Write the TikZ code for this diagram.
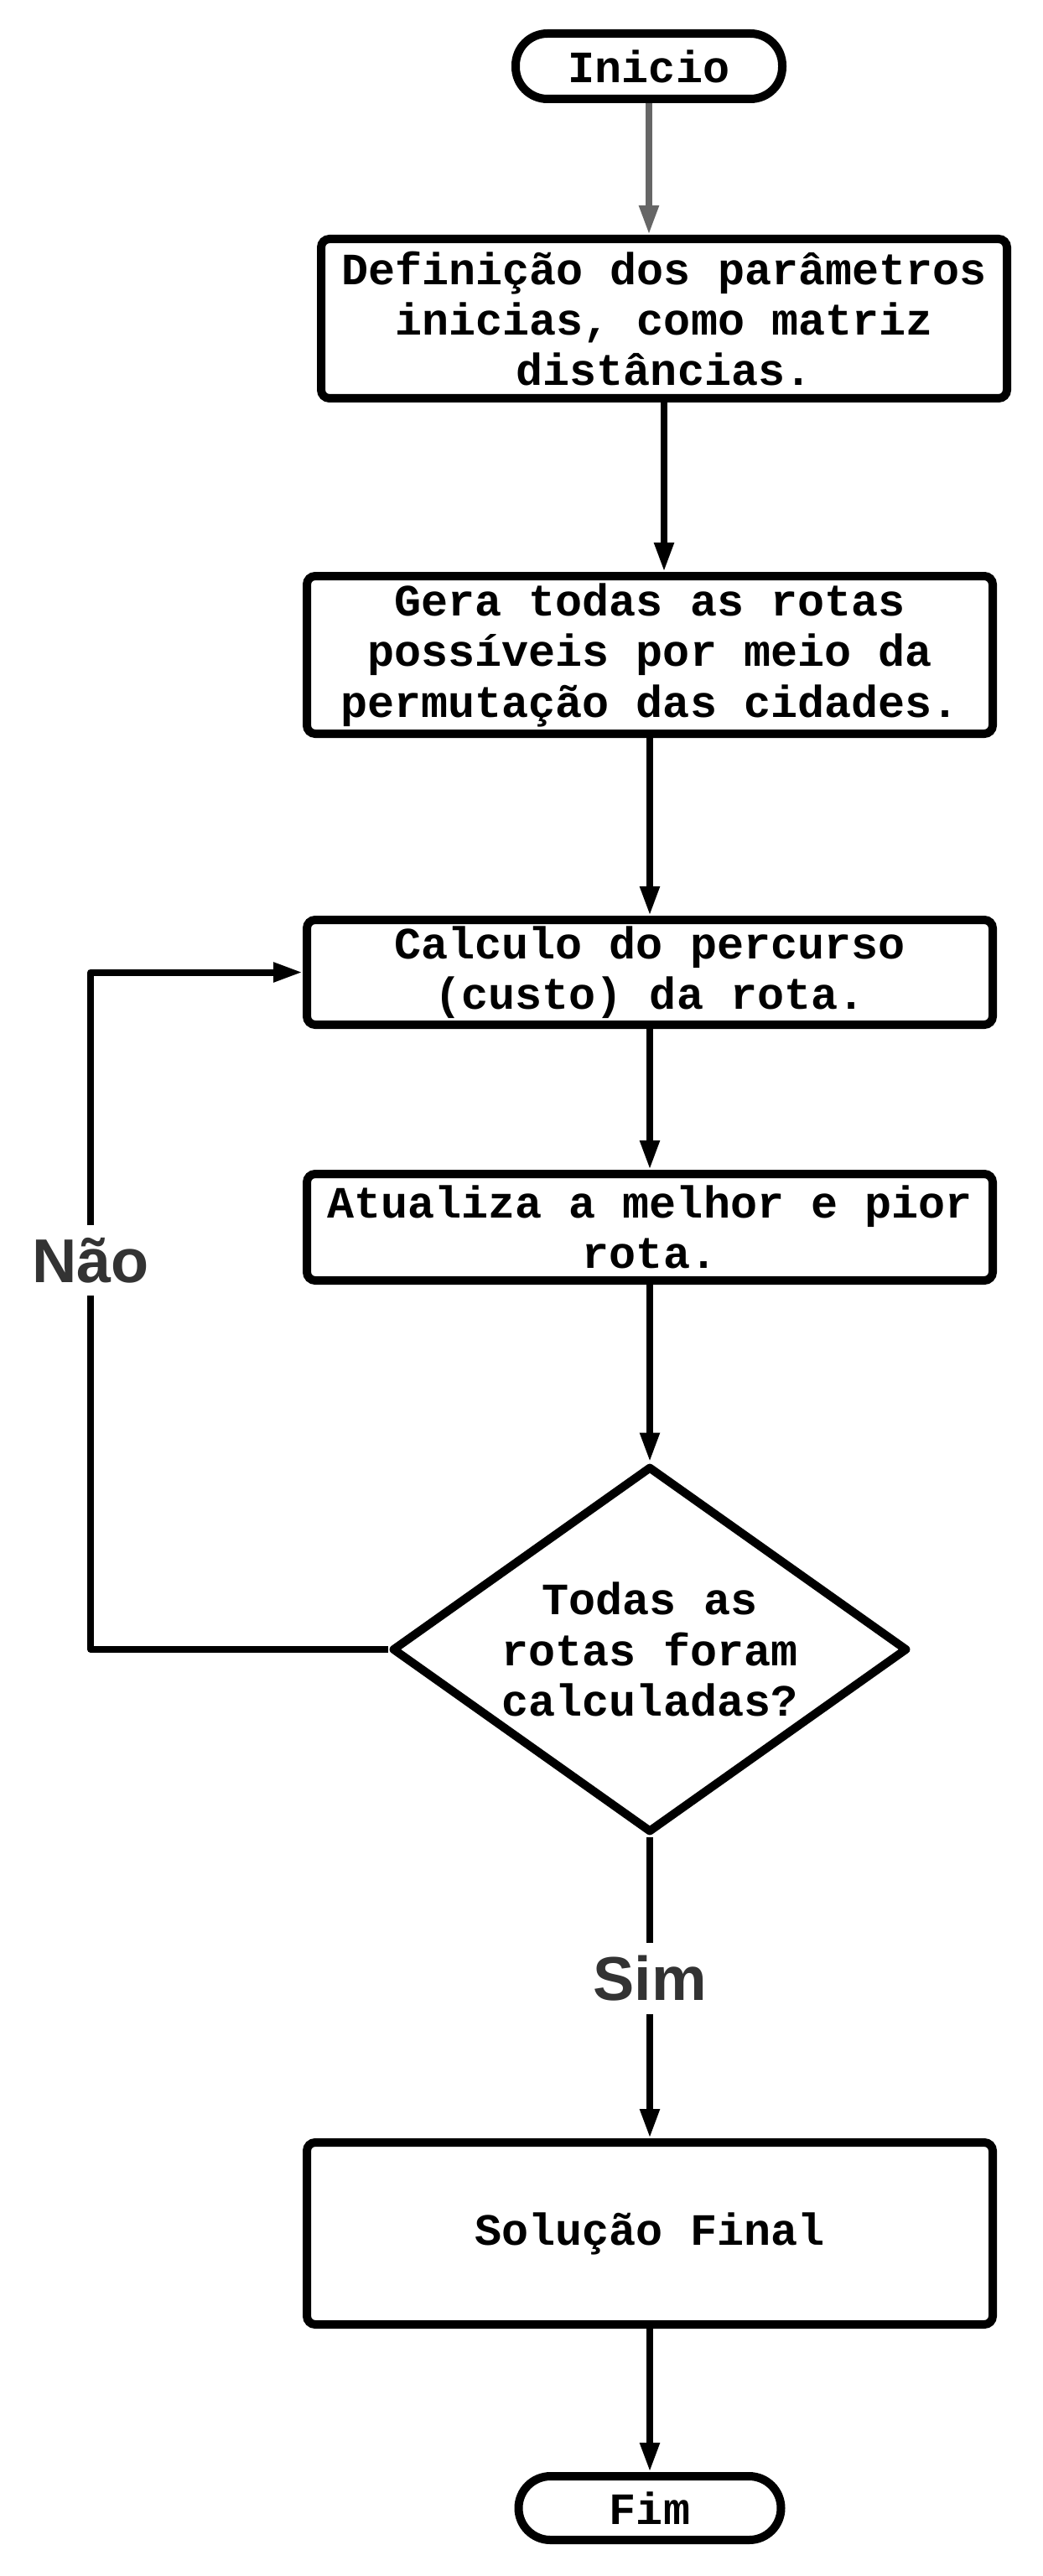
\documentclass[tikz,border=0pt]{standalone}
\usepackage{fontspec}
\newfontfamily\caixafont{Liberation Mono}
\newfontfamily\rotulofont{Liberation Sans}
\usepackage{tikz}
\usetikzlibrary{shapes.geometric, arrows.meta, positioning}
\definecolor{cinzaseta}{HTML}{666666}
\definecolor{cinzarotulo}{HTML}{333333}
\tikzstyle{texto} = [font=\caixafont\bfseries\fontsize{15.2pt}{17.2pt}\selectfont, align=center]
\tikzstyle{terminal} = [texto, draw, line width=1mm, rounded corners=3.8mm, minimum width=31.8mm, minimum height=7.8mm, inner sep=0pt]
\tikzstyle{processo} = [texto, draw, line width=1mm, rounded corners=1mm, minimum width=81.8mm, inner sep=0pt]
\tikzstyle{decisao} = [texto, draw, diamond, aspect=1.41, line width=1mm, line join=round, minimum width=61.5mm, minimum height=43.7mm, inner sep=0pt]
\tikzstyle{seta} = [line width=0.8mm, -{Triangle[width=2.2mm, length=3.5mm]}]
\tikzstyle{rotulo} = [font=\rotulofont\bfseries\fontsize{21pt}{24pt}\selectfont, text=cinzarotulo, fill=white, inner sep=1.5mm]

\begin{document}
\begin{tikzpicture}
            \useasboundingbox (0,0) rectangle (124.3mm,-307.2mm);

            \node[terminal] at (77.4mm, -7.9mm) (inicio) {Inicio};
            \node[processo, minimum height=19mm] at (79.2mm, -38mm) (definicao) {Definição dos parâmetros\\inicias, como matriz\\distâncias.};
            \node[processo, minimum height=18.8mm] at (77.5mm, -78.1mm) (gera) {Gera todas as rotas\\possíveis por meio da\\permutação das cidades.};
            \node[processo, minimum height=12.5mm] at (77.5mm, -115.95mm) (calculo) {Calculo do percurso\\(custo) da rota.};
            \node[processo, minimum height=12.7mm] at (77.5mm, -146.35mm) (atualiza) {Atualiza a melhor e pior\\rota.};
            \node[decisao] at (77.5mm, -196.7mm) (todas) {Todas as\\rotas foram\\calculadas?};
            \node[processo, minimum height=21.7mm] at (77.5mm, -266.35mm) (solucao) {Solução Final};
            \node[terminal, minimum width=31.3mm, minimum height=7.6mm] at (77.5mm, -299.1mm) (fim) {Fim};

            % fluxo principal
            \draw[seta, cinzaseta] (inicio) -- (inicio |- definicao.north);
            \draw[seta] (definicao) -- (definicao |- gera.north);
            \draw[seta] (gera) -- (calculo);
            \draw[seta] (calculo) -- (atualiza);
            \draw[seta] (atualiza) -- (todas);
            \draw[seta] (todas) -- (solucao) node[rotulo, pos=0.47] {Sim};
            \draw[seta] (solucao) -- (fim);

            % volta
            \coordinate (volta) at (10.8mm, -196.7mm);
            \draw[seta, line join=round] (todas.west) -- (volta) |- (calculo.west);
            \node[rotulo] at (10.8mm, -150.3mm) (nao) {Não};
          \end{tikzpicture}
\end{document}
